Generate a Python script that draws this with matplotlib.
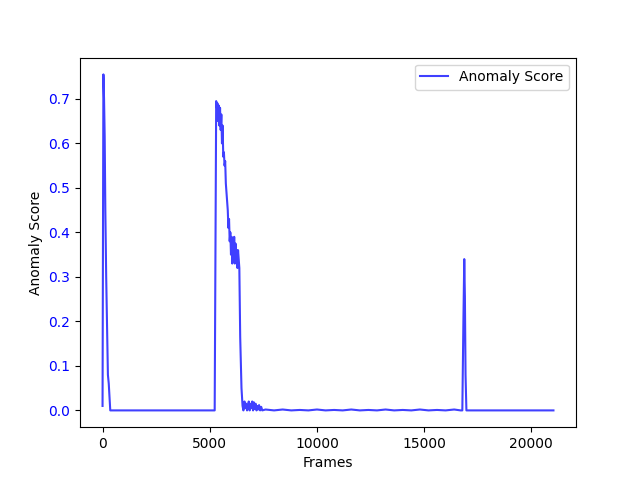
import matplotlib
matplotlib.use('Agg')
import matplotlib.pyplot as plt

# first spike at the start
spike1_frames = [0, 40, 70, 100, 130, 170, 210, 250, 290, 360]
spike1_scores = [0.01, 0.755, 0.70, 0.615, 0.45, 0.30, 0.19, 0.08, 0.06, 0.0]

# large hump around frame 5300-6500
hump_frames = [5230, 5300, 5330, 5360, 5390, 5420, 5450, 5480, 5510, 5540,
               5570, 5600, 5630, 5660, 5690, 5720, 5750, 5780, 5810, 5840,
               5870, 5900, 5930, 5960, 5990, 6020, 6050, 6080, 6110, 6140,
               6170, 6200, 6230, 6260, 6290, 6320, 6350, 6380, 6420, 6480,
               6530, 6570]
hump_scores = [0.0, 0.695, 0.68, 0.69, 0.65, 0.685, 0.64, 0.68, 0.63, 0.665,
               0.60, 0.64, 0.57, 0.58, 0.55, 0.56, 0.51, 0.49, 0.47, 0.45,
               0.41, 0.43, 0.38, 0.40, 0.35, 0.39, 0.33, 0.37, 0.345, 0.39,
               0.33, 0.375, 0.34, 0.36, 0.32, 0.36, 0.34, 0.32, 0.165, 0.05,
               0.01, 0.0]

# small wiggles after the hump
tail_frames = [6620, 6660, 6700, 6740, 6780, 6820, 6860, 6900, 6940, 6980,
               7020, 7060, 7100, 7140, 7180, 7220, 7260, 7300, 7350, 7400, 7450]
tail_scores = [0.02, 0.005, 0.015, 0.0, 0.01, 0.02, 0.0, 0.015, 0.005, 0.02,
               0.0, 0.018, 0.003, 0.015, 0.0, 0.01, 0.002, 0.012, 0.0, 0.008, 0.0]

# near-zero noise
noise_frames = [7600, 8000, 8400, 8800, 9200, 9600, 10000, 10400, 10800, 11200,
                11600, 12000, 12400, 12800, 13200, 13600, 14000, 14400, 14800,
                15200, 15600, 16000, 16400, 16700]
noise_scores = [0.002, 0.0, 0.002, 0.0, 0.001, 0.0, 0.002, 0.0, 0.001, 0.0,
                0.002, 0.0, 0.001, 0.0, 0.002, 0.0, 0.001, 0.0, 0.002,
                0.0, 0.001, 0.0, 0.002, 0.0]

# second spike
spike2_frames = [16780, 16830, 16870, 16900, 16930, 16970, 21030]
spike2_scores = [0.0, 0.20, 0.34, 0.255, 0.08, 0.0, 0.0]

frames = spike1_frames + hump_frames + tail_frames + noise_frames + spike2_frames
scores = spike1_scores + hump_scores + tail_scores + noise_scores + spike2_scores

fig, ax = plt.subplots(figsize=(6.4, 4.8), dpi=100)
ax.plot(frames, scores, color='blue', alpha=0.75, label='Anomaly Score')
ax.set_xlabel('Frames')
ax.set_ylabel('Anomaly Score')
ax.tick_params(axis='y', labelcolor='blue')
ax.legend(loc='upper right')

plt.savefig('out.png')
